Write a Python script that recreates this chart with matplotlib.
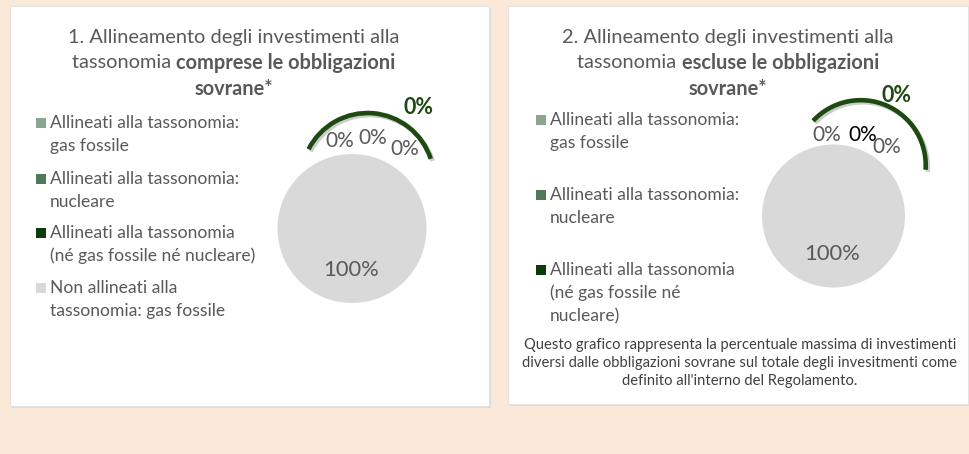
import matplotlib.pyplot as plt
from matplotlib.patches import Rectangle, Arc
import matplotlib.patheffects as pe

plt.rcParams['font.family'] = ['Lato', 'DejaVu Sans']

W, H = 969, 454

# dati
categorie_1 = ["Allineati alla tassonomia:\ngas fossile",
               "Allineati alla tassonomia:\nnucleare",
               "Allineati alla tassonomia\n(né gas fossile né nucleare)",
               "Non allineati alla\ntassonomia: gas fossile"]
categorie_2 = ["Allineati alla tassonomia:\ngas fossile",
               "Allineati alla tassonomia:\nnucleare",
               "Allineati alla tassonomia\n(né gas fossile né\nnucleare)"]
colori = ['#8aa68e', '#4f7a58', '#0b3a0b', '#d9d9d9']
valori_1 = [0, 0, 0, 100]
valori_2 = [0, 0, 0, 100]

titolo_1 = ["1. Allineamento degli investimenti alla", "tassonomia ", "comprese le obbligazioni", "sovrane*"]
titolo_2 = ["2. Allineamento degli investimenti alla", "tassonomia ", "escluse le obbligazioni", "sovrane*"]
nota = ("Questo grafico rappresenta la percentuale massima di investimenti\n"
        "diversi dalle obbligazioni sovrane sul totale degli invesitmenti come\n"
        "definito all'interno del Regolamento.")

GRIGIO = '#595959'
VERDE = '#1c4a10'


def fx(x):
    return x / W


def fy(y):
    return 1 - y / H


fig = plt.figure(figsize=(W / 100, H / 100), dpi=100)
fig.patch.set_facecolor('#fae8d8')

# pannelli
for x0, y0, x1, y1 in [(10, 6, 489, 406), (508, 6, 968, 404)]:
    fig.patches.append(Rectangle((fx(x0) + 0.002, fy(y1) - 0.004), (x1 - x0) / W, (y1 - y0) / H,
                                 transform=fig.transFigure, facecolor='#dcdcdc', edgecolor='none'))
    fig.patches.append(Rectangle((fx(x0), fy(y1)), (x1 - x0) / W, (y1 - y0) / H,
                                 transform=fig.transFigure, facecolor='white', edgecolor='#e3e3e3', lw=0.8))

renderer = fig.canvas.get_renderer()


def titolo(parti, cx, ys, size=14.4):
    fig.text(fx(cx), fy(ys[0]), parti[0], ha='center', va='center', fontsize=size, color=GRIGIO)
    t1 = fig.text(0, fy(ys[1]), parti[1], ha='left', va='center', fontsize=size, color=GRIGIO)
    t2 = fig.text(0, fy(ys[1]), parti[2], ha='left', va='center', fontsize=size, color=GRIGIO, fontweight='bold')
    w1 = t1.get_window_extent(renderer).width
    w2 = t2.get_window_extent(renderer).width
    x0 = cx - (w1 + w2) / 2
    t1.set_x(fx(x0))
    t2.set_x(fx(x0 + w1))
    fig.text(fx(cx), fy(ys[2]), parti[3], ha='center', va='center', fontsize=size, color=GRIGIO, fontweight='bold')


def legenda(cat, mx, ys, size=12.6):
    for lab, col, y in zip(cat, colori, ys):
        fig.patches.append(Rectangle((fx(mx), fy(y + 5)), 10 / W, 10 / H, transform=fig.transFigure,
                                     facecolor=col, edgecolor='none'))
        for i, riga in enumerate(lab.split('\n')):
            fig.text(fx(mx + 14), fy(y + 23 * i), riga, ha='left', va='center', fontsize=size, color=GRIGIO)


def torta(valori, cx, cy, r, etichette, arco, lim=1.9):
    size = 2 * lim * r
    ax = fig.add_axes([fx(cx - lim * r), fy(cy + lim * r), size / W, size / H])
    ax.set_zorder(3)
    ax.pie(valori, colors=colori, startangle=90, counterclock=False, wedgeprops=dict(linewidth=0))
    ax.set_xlim(-lim, lim)
    ax.set_ylim(-lim, lim)
    ax.axis('off')
    (ax_c, ay_c, ar, t1, t2) = arco
    ax.add_patch(Arc((ax_c, ay_c), 2 * ar, 2 * ar, theta1=t1, theta2=t2, color=VERDE, lw=3.3,
                     path_effects=[pe.SimpleLineShadow(offset=(1.5, -1.5), alpha=0.2, shadow_color='black'),
                                   pe.Normal()]))
    for v, (x, y, col, bold, fs) in zip(valori, etichette):
        ax.text(x, y, f"{v:.0f}%", ha='center', va='center', color=col, fontsize=fs,
                fontweight='bold' if bold else 'normal')
    return ax


# grafico 1
titolo(titolo_1, 234, [37, 63, 89])
legenda(categorie_1, 36, [123, 179, 233, 288])
torta(valori_1, 352, 228.5, 74.5,
      [(-0.17, 1.17, GRIGIO, False, 15), (0.28, 1.21, GRIGIO, False, 15),
       (0.71, 1.07, GRIGIO, False, 15), (-0.01, -0.56, GRIGIO, False, 15.8)],
      (0.21, 0.66, 0.89, 18, 153))
fig.text(fx(418), fy(107), "0%", ha='center', va='center', color=VERDE, fontsize=15.5, fontweight='bold')

# grafico 2
titolo(titolo_2, 728, [37, 63, 89])
legenda(categorie_2, 536, [120, 195, 270])
torta(valori_2, 833.5, 216, 71.5,
      [(-0.09, 1.13, GRIGIO, False, 15), (0.41, 1.13, 'black', False, 15),
       (0.75, 0.97, GRIGIO, False, 15), (-0.02, -0.53, GRIGIO, False, 15.8)],
      (0.38, 0.71, 0.91, -4, 137))
fig.text(fx(897), fy(95), "0%", ha='center', va='center', color=VERDE, fontsize=15.5, fontweight='bold')
fig.text(fx(740), fy(363), nota, ha='center', va='center', fontsize=10.6, color='#404040', linespacing=1.35)

fig.savefig('out.png', dpi=100, facecolor=fig.get_facecolor())
